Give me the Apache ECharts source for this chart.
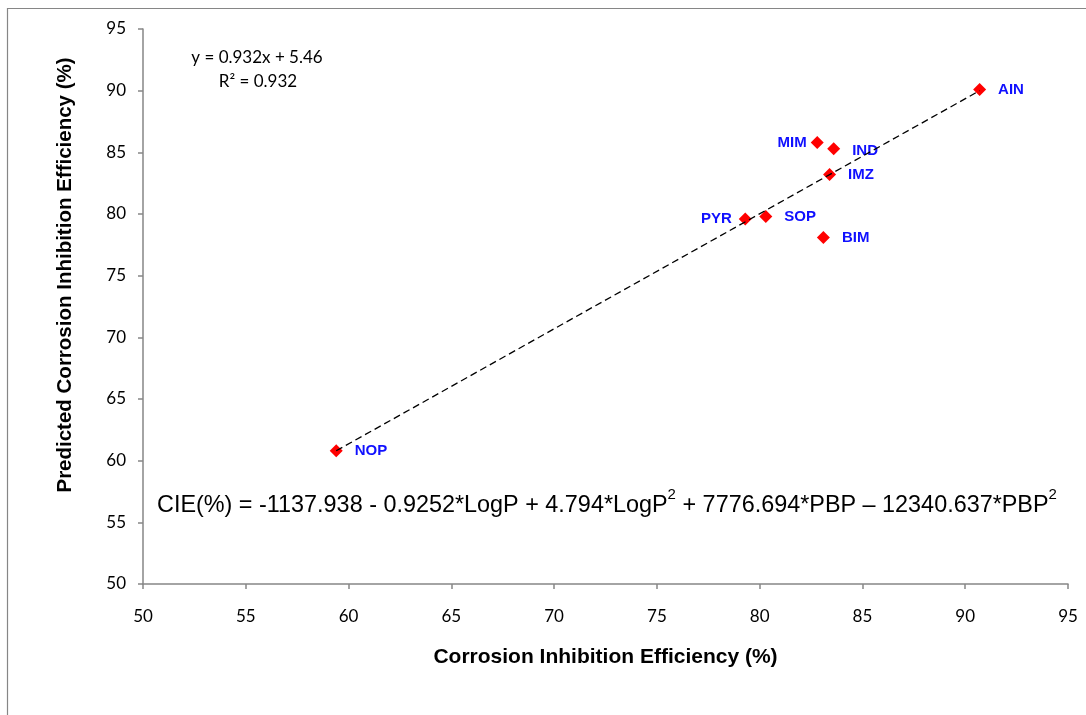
<!DOCTYPE html>
<html>
<head>
<meta charset="utf-8">
<script src="https://cdn.jsdelivr.net/npm/echarts@6/dist/echarts.min.js"></script>
<style>
  html, body { margin: 0; padding: 0; background: #fff; }
  #main { width: 1086px; height: 715px; }
</style>
</head>
<body>
<div id="main"></div>
<script>
// 化合物名称及数值
var names = ['AIN', 'MIM', 'IND', 'IMZ', 'PYR', 'SOP', 'BIM', 'NOP'];
var measured = [90.7, 82.8, 83.6, 83.4, 79.3, 80.3, 83.1, 59.4];
var predicted = [90.1, 85.8, 85.3, 83.2, 79.6, 79.8, 78.1, 60.8];
// 趋势线两端点
var trendX = [59.4, 90.7];
var trendY = [60.8, 90.0];
var xTicks = [50, 55, 60, 65, 70, 75, 80, 85, 90, 95];
var yTicks = [50, 55, 60, 65, 70, 75, 80, 85, 90, 95];

var myChart = echarts.init(document.getElementById('main'));

var leftSide = { MIM: 4, PYR: 7 };
var labelStyle = { fontFamily: 'Liberation Sans', fontWeight: 'bold', fontSize: 15, color: '#1010ff' };

var points = [];
for (var i = 0; i < names.length; i++) {
    var isLeft = leftSide.hasOwnProperty(names[i]);
    points.push({
        name: names[i],
        value: [measured[i], predicted[i]],
        label: {
            show: true,
            position: isLeft ? 'left' : 'right',
            distance: isLeft ? leftSide[names[i]] : 12,
            offset: names[i] === 'IND' ? [0, 2] : [0, 0],
            formatter: '{b}'
        }
    });
}

var trendData = [];
for (var j = 0; j < trendX.length; j++) {
    trendData.push([trendX[j], trendY[j]]);
}

var axisColor = '#868686';
var tickFont = { fontFamily: 'Lato', fontSize: 17, color: '#000' };

var option = {
    animation: false,
    backgroundColor: '#fff',
    grid: { left: 143, top: 29, right: 18, bottom: 131, containLabel: false },
    xAxis: {
        type: 'value',
        min: xTicks[0],
        max: xTicks[xTicks.length - 1],
        interval: 5,
        name: 'Corrosion Inhibition Efficiency (%)',
        nameLocation: 'middle',
        nameGap: 63,
        nameTextStyle: { fontFamily: 'Liberation Sans', fontWeight: 'bold', fontSize: 21, color: '#000' },
        axisLine: { show: true, lineStyle: { color: axisColor, width: 1.5 } },
        axisTick: { show: true, inside: false, length: 5, lineStyle: { color: axisColor, width: 1.5 } },
        axisLabel: Object.assign({ margin: 24 }, tickFont),
        splitLine: { show: false }
    },
    yAxis: {
        type: 'value',
        min: yTicks[0],
        max: yTicks[yTicks.length - 1],
        interval: 5,
        axisLine: { show: true, lineStyle: { color: axisColor, width: 1.5 } },
        axisTick: { show: true, inside: false, length: 5, lineStyle: { color: axisColor, width: 1.5 } },
        axisLabel: Object.assign({ margin: 17 }, tickFont),
        splitLine: { show: false }
    },
    series: [
        {
            type: 'line',
            data: trendData,
            symbol: 'none',
            lineStyle: { color: '#000', width: 1.3, type: [7, 4] },
            z: 3
        },
        {
            type: 'scatter',
            symbol: 'diamond',
            symbolSize: 13,
            itemStyle: { color: '#ff0000', opacity: 1 },
            label: labelStyle,
            data: points,
            z: 2
        }
    ],
    graphic: [
        {
            type: 'rect',
            shape: { x: 7.5, y: 8.5, width: 1200, height: 800 },
            style: { fill: 'none', stroke: '#868686', lineWidth: 1.2 },
            silent: true
        },
        {
            type: 'text',
            x: 65, y: 275,
            rotation: Math.PI / 2,
            style: {
                text: 'Predicted Corrosion Inhibition Efficiency (%)',
                fontFamily: 'Liberation Sans', fontWeight: 'bold', fontSize: 20.5, fill: '#000',
                align: 'center', verticalAlign: 'middle'
            }
        },
        {
            type: 'text',
            x: 257, y: 58,
            style: { text: 'y = 0.932x + 5.46', fontFamily: 'Lato', fontSize: 17, fill: '#000', align: 'center', verticalAlign: 'middle' }
        },
        {
            type: 'text',
            x: 258, y: 82,
            style: { text: 'R² = 0.932', fontFamily: 'Lato', fontSize: 17, fill: '#000', align: 'center', verticalAlign: 'middle' }
        },
        {
            type: 'text',
            left: 157, top: 487,
            style: {
                text: '{m|CIE(%) = -1137.938 - 0.9252*LogP + 4.794*LogP}{s|2}{m| + 7776.694*PBP – 12340.637*PBP}{s|2}',
                rich: {
                    m: { fontFamily: 'Liberation Sans', fontSize: 23.4, fill: '#000', verticalAlign: 'bottom', lineHeight: 30 },
                    s: { fontFamily: 'Liberation Sans', fontSize: 15, fill: '#000', verticalAlign: 'top', lineHeight: 30, padding: [0, 0, 14, 0] }
                }
            }
        }
    ]
};

myChart.setOption(option);
</script>
</body>
</html>
